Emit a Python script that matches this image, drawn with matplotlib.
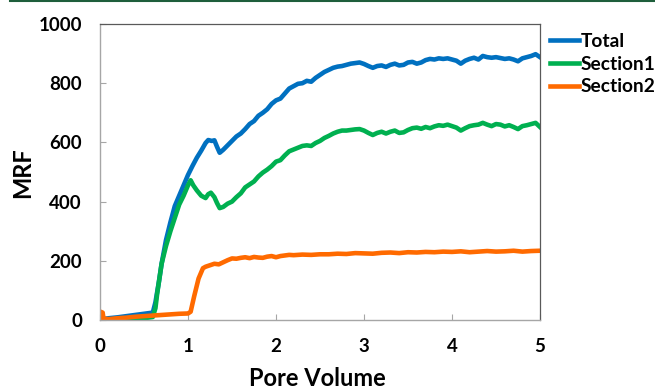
import matplotlib
matplotlib.use("Agg")
import matplotlib.pyplot as plt
from matplotlib.lines import Line2D

plt.rcParams['font.family'] = ['Lato', 'DejaVu Sans']
plt.rcParams['font.weight'] = 'bold'

# Pore volume / MRF readings for each series
total_pv = [0, 0.05, 0.1, 0.2, 0.3, 0.4, 0.5, 0.6, 0.63, 0.67, 0.7, 0.75, 0.8, 0.85, 0.9, 0.95,
            1.0, 1.05, 1.1, 1.15, 1.2, 1.23, 1.27, 1.3, 1.33, 1.36, 1.4, 1.45, 1.5, 1.55, 1.6,
            1.65, 1.7, 1.75, 1.8, 1.85, 1.9, 1.95, 2.0, 2.05, 2.1, 2.15, 2.2, 2.25, 2.3, 2.35,
            2.4, 2.45, 2.5, 2.55, 2.6, 2.65, 2.7, 2.75, 2.8, 2.85, 2.9, 2.95, 3.0, 3.05, 3.1,
            3.15, 3.2, 3.25, 3.3, 3.35, 3.4, 3.45, 3.5, 3.55, 3.6, 3.65, 3.7, 3.75, 3.8, 3.85,
            3.9, 3.95, 4.0, 4.05, 4.1, 4.15, 4.2, 4.25, 4.3, 4.35, 4.4, 4.45, 4.5, 4.55, 4.6,
            4.65, 4.7, 4.75, 4.8, 4.85, 4.9, 4.95, 5.0]
total_mrf = [3, 4, 6, 9, 13, 17, 21, 25, 60, 130, 190, 270, 330, 385, 420, 455,
             490, 520, 548, 572, 598, 608, 605, 607, 585, 565, 575, 590, 605, 620, 630,
             645, 662, 672, 690, 700, 712, 730, 742, 748, 765, 782, 790, 798, 800, 808,
             805, 818, 828, 838, 845, 852, 856, 858, 862, 866, 868, 870, 865, 858, 852,
             858, 860, 855, 862, 866, 860, 862, 870, 872, 866, 870, 878, 882, 880, 884,
             882, 884, 880, 876, 866, 876, 882, 886, 880, 892, 888, 886, 888, 885, 882,
             884, 880, 874, 884, 888, 892, 898, 888]

sec1_pv = [0, 0.1, 0.2, 0.3, 0.4, 0.5, 0.6, 0.63, 0.65, 0.7, 0.75, 0.8, 0.85, 0.9, 0.95,
           1.0, 1.03, 1.06, 1.1, 1.15, 1.2, 1.23, 1.26, 1.3, 1.33, 1.36, 1.4, 1.45, 1.5,
           1.55, 1.6, 1.65, 1.7, 1.75, 1.8, 1.85, 1.9, 1.95, 2.0, 2.05, 2.1, 2.15, 2.2,
           2.25, 2.3, 2.35, 2.4, 2.45, 2.5, 2.55, 2.6, 2.65, 2.7, 2.75, 2.8, 2.85, 2.9,
           2.95, 3.0, 3.05, 3.1, 3.15, 3.2, 3.25, 3.3, 3.35, 3.4, 3.45, 3.5, 3.55, 3.6,
           3.65, 3.7, 3.75, 3.8, 3.85, 3.9, 3.95, 4.0, 4.05, 4.1, 4.15, 4.2, 4.25, 4.3,
           4.35, 4.4, 4.45, 4.5, 4.55, 4.6, 4.65, 4.7, 4.75, 4.8, 4.85, 4.9, 4.95, 5.0]
sec1_mrf = [0, 0, 1, 2, 4, 6, 10, 40, 90, 190, 250, 300, 345, 390, 420,
            455, 472, 455, 438, 420, 412, 425, 430, 415, 395, 378, 382, 393, 400,
            415, 428, 448, 458, 468, 485, 498, 508, 520, 535, 540, 556, 570, 576,
            582, 588, 590, 588, 598, 605, 615, 622, 630, 636, 640, 640, 642, 644,
            645, 640, 632, 625, 632, 636, 630, 636, 640, 632, 634, 642, 648, 650,
            646, 652, 648, 654, 658, 656, 660, 655, 650, 640, 648, 655, 658, 660,
            666, 660, 655, 662, 660, 654, 658, 652, 645, 655, 658, 662, 666, 652]

sec2_pv = [0, 0.005, 0.03, 0.04, 0.1, 0.2, 0.3, 0.4, 0.5, 0.6, 0.7, 0.8, 0.9, 1.0, 1.03,
           1.07, 1.12, 1.17, 1.2, 1.25, 1.3, 1.35, 1.4, 1.45, 1.5, 1.55, 1.6, 1.65, 1.7,
           1.75, 1.8, 1.85, 1.9, 1.95, 2.0, 2.05, 2.1, 2.15, 2.2, 2.3, 2.4, 2.5, 2.6,
           2.7, 2.8, 2.9, 3.0, 3.1, 3.2, 3.3, 3.4, 3.5, 3.6, 3.7, 3.8, 3.9, 4.0, 4.1,
           4.2, 4.3, 4.4, 4.5, 4.6, 4.7, 4.8, 4.9, 5.0]
sec2_mrf = [0, 28, 25, 5, 3, 6, 8, 11, 13, 15, 17, 19, 21, 22, 28,
            80, 140, 175, 180, 185, 190, 188, 195, 202, 208, 207, 210, 212, 209,
            213, 211, 210, 214, 216, 212, 216, 218, 220, 219, 221, 220, 222, 222,
            224, 223, 226, 225, 224, 227, 228, 226, 229, 228, 230, 229, 231, 230, 232,
            229, 231, 233, 231, 232, 234, 231, 233, 234]

x_ticks = [0, 1, 2, 3, 4, 5]
y_ticks = [0, 200, 400, 600, 800, 1000]

fig = plt.figure(figsize=(6.55, 3.9), dpi=100)
ax = fig.add_axes([100 / 655, 1 - 320 / 390, 440 / 655, 296 / 390])

lw = 3.3
ax.plot(total_pv, total_mrf, color='#0070C0', lw=lw, label='Total', solid_joinstyle='round')
ax.plot(sec1_pv, sec1_mrf, color='#00B050', lw=lw, label='Section1', solid_joinstyle='round')
ax.plot(sec2_pv, sec2_mrf, color='#FF6A00', lw=lw, label='Section2', solid_joinstyle='round')

ax.set_xlim(0, 5)
ax.set_ylim(0, 1000)
ax.set_xticks(x_ticks)
ax.set_yticks(y_ticks)
ax.tick_params(direction='in', length=4, width=0.8, color='#A6A6A6', labelsize=13.5)
ax.tick_params(axis='x', pad=13)
ax.tick_params(axis='y', pad=13)
for lab in ax.get_xticklabels() + ax.get_yticklabels():
    lab.set_fontweight('bold')

for side in ('top', 'right'):
    ax.spines[side].set_color('#595959')
    ax.spines[side].set_linewidth(0.9)
for side in ('left', 'bottom'):
    ax.spines[side].set_color('#A6A6A6')
    ax.spines[side].set_linewidth(1.0)

fig.text(317 / 655, 1 - 378 / 390, 'Pore Volume', ha='center', va='center',
         fontsize=17, fontweight='bold')
fig.text(23 / 655, 1 - 173 / 390, 'MRF', ha='center', va='center', rotation=90,
         fontsize=17, fontweight='bold')

leg = ax.legend(loc='upper left', bbox_to_anchor=(550 / 655, 1 - 33 / 390),
                bbox_transform=fig.transFigure, frameon=False,
                handlelength=1.5, handletextpad=0.1, labelspacing=0.3,
                borderpad=0, borderaxespad=0, prop={'weight': 'bold', 'size': 13.8})
for h in leg.get_lines():
    h.set_linewidth(3.3)

# thin rule across the top edge
fig.add_artist(Line2D([10 / 655, 1.0], [1 - 1 / 390, 1 - 1 / 390],
                      transform=fig.transFigure, color='#1E5E3B', lw=1.5))

fig.savefig('out.png', dpi=100)
